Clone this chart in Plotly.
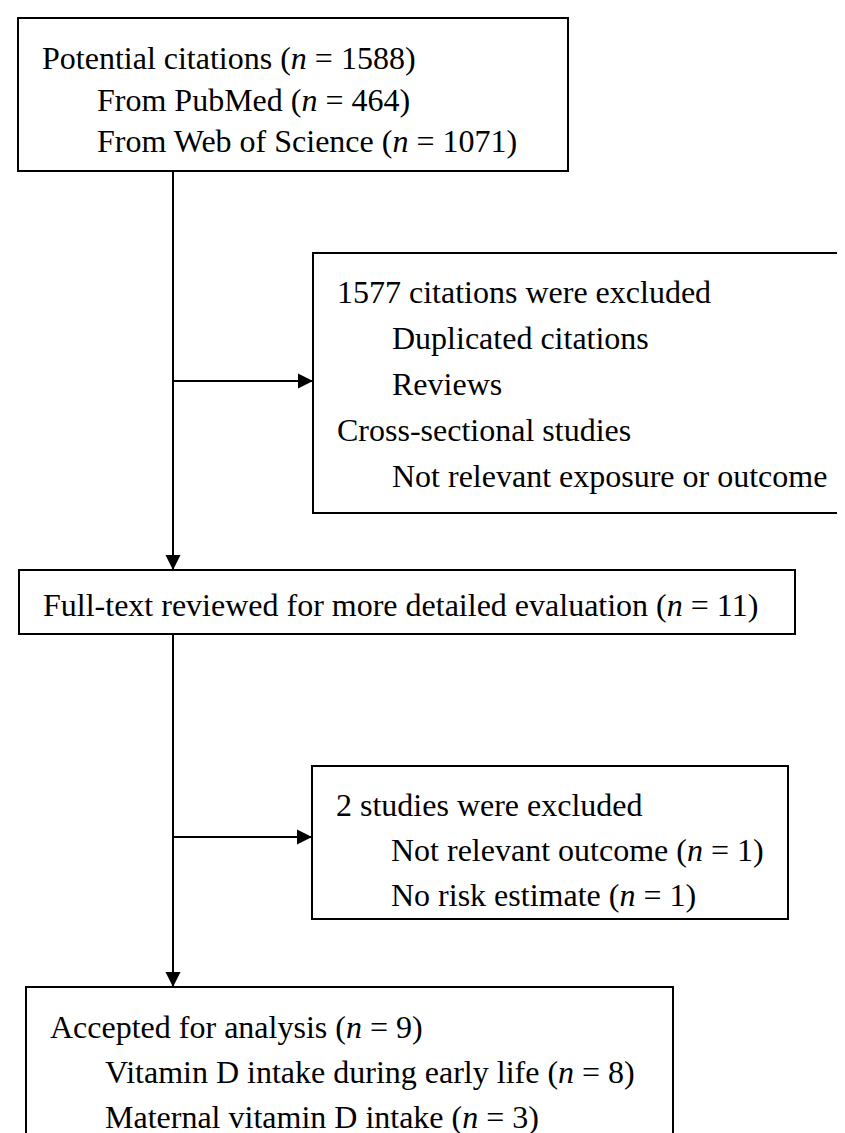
import plotly.graph_objects as go

# ---- data (flowchart counts and labels) ----
n_potential = 1588
n_pubmed = 464
n_wos = 1071
n_excl1 = 1577
n_fulltext = 11
n_excl2 = 2
n_not_rel_out = 1
n_no_risk = 1
n_accepted = 9
n_early = 8
n_maternal = 3

N = "<i>n</i>"
box1_lines = [f"Potential citations ({N} = {n_potential})",
              f"From PubMed ({N} = {n_pubmed})",
              f"From Web of Science ({N} = {n_wos})"]
box1_indent = [0, 1, 1]
box2_lines = [f"{n_excl1} citations were excluded",
              "Duplicated citations",
              "Reviews",
              "Cross-sectional studies",
              "Not relevant exposure or outcome"]
box2_indent = [0, 1, 1, 0, 1]
box3_lines = [f"Full-text reviewed for more detailed evaluation ({N} = {n_fulltext})"]
box3_indent = [0]
box4_lines = [f"{n_excl2} studies were excluded",
              f"Not relevant outcome ({N} = {n_not_rel_out})",
              f"No risk estimate ({N} = {n_no_risk})"]
box4_indent = [0, 1, 1]
box5_lines = [f"Accepted for analysis ({N} = {n_accepted})",
              f"Vitamin D intake during early life ({N} = {n_early})",
              f"Maternal vitamin D intake ({N} = {n_maternal})"]
box5_indent = [0, 1, 1]

# ---- layout geometry (pixels) ----
W, H = 845, 1133
FONT = dict(family="Liberation Serif, Times New Roman, serif", size=32, color="black")
PAD = 22
INDENT = 55
LW = 2

boxes = [
    # (x0, y0, x1, y1, first_line_center, spacing, lines, indents)
    (10, 10, 560, 163, 50, 41.5, box1_lines, box1_indent),
    (305, 245, 844, 505, 284, 46, box2_lines, box2_indent),
    (11, 562, 787, 626, 597, 46, box3_lines, box3_indent),
    (304, 758, 780, 911, 797, 45, box4_lines, box4_indent),
    (18, 979, 665, 1131, 1019, 45, box5_lines, box5_indent),
]

fig = go.Figure()
fig.add_trace(go.Scatter(x=[0, W], y=[0, H], mode="markers",
                         marker=dict(opacity=0), hoverinfo="skip", showlegend=False))

shapes = []
annotations = []
for x0, y0, x1, y1, c0, sp, lines, ind in boxes:
    shapes.append(dict(type="rect", xref="x", yref="y", x0=x0, y0=y0, x1=x1, y1=y1,
                       line=dict(color="black", width=LW), fillcolor="white", layer="below"))
    for i, (t, k) in enumerate(zip(lines, ind)):
        annotations.append(dict(x=x0 + PAD + k * INDENT, y=c0 + i * sp, xref="x", yref="y",
                                text=t, showarrow=False, xanchor="left", yanchor="middle",
                                font=FONT))

XV = 165
# connector lines
segs = [
    (XV, 163, XV, 562),
    (XV, 626, XV, 979),
    (XV, 373, 305, 373),
    (XV, 829, 304, 829),
]
for xa, ya, xb, yb in segs:
    shapes.append(dict(type="line", xref="x", yref="y", x0=xa, y0=ya, x1=xb, y1=yb,
                       line=dict(color="black", width=LW)))
# arrowheads
for xa, ya, xb, yb in segs:
    dx = 0 if xb == xa else (1 if xb > xa else -1)
    dy = 0 if yb == ya else (1 if yb > ya else -1)
    annotations.append(dict(x=xb, y=yb, ax=xb - dx * 30, ay=yb - dy * 30,
                            xref="x", yref="y", axref="x", ayref="y",
                            text="", showarrow=True, arrowhead=2, arrowsize=1.5,
                            arrowwidth=LW, arrowcolor="black"))

fig.update_layout(
    width=W, height=H,
    margin=dict(l=0, r=0, t=0, b=0),
    paper_bgcolor="white", plot_bgcolor="white",
    xaxis=dict(range=[0, W], visible=False, fixedrange=True),
    yaxis=dict(range=[H, 0], visible=False, fixedrange=True),
    shapes=shapes, annotations=annotations, showlegend=False,
)
fig.write_html("out.html")
